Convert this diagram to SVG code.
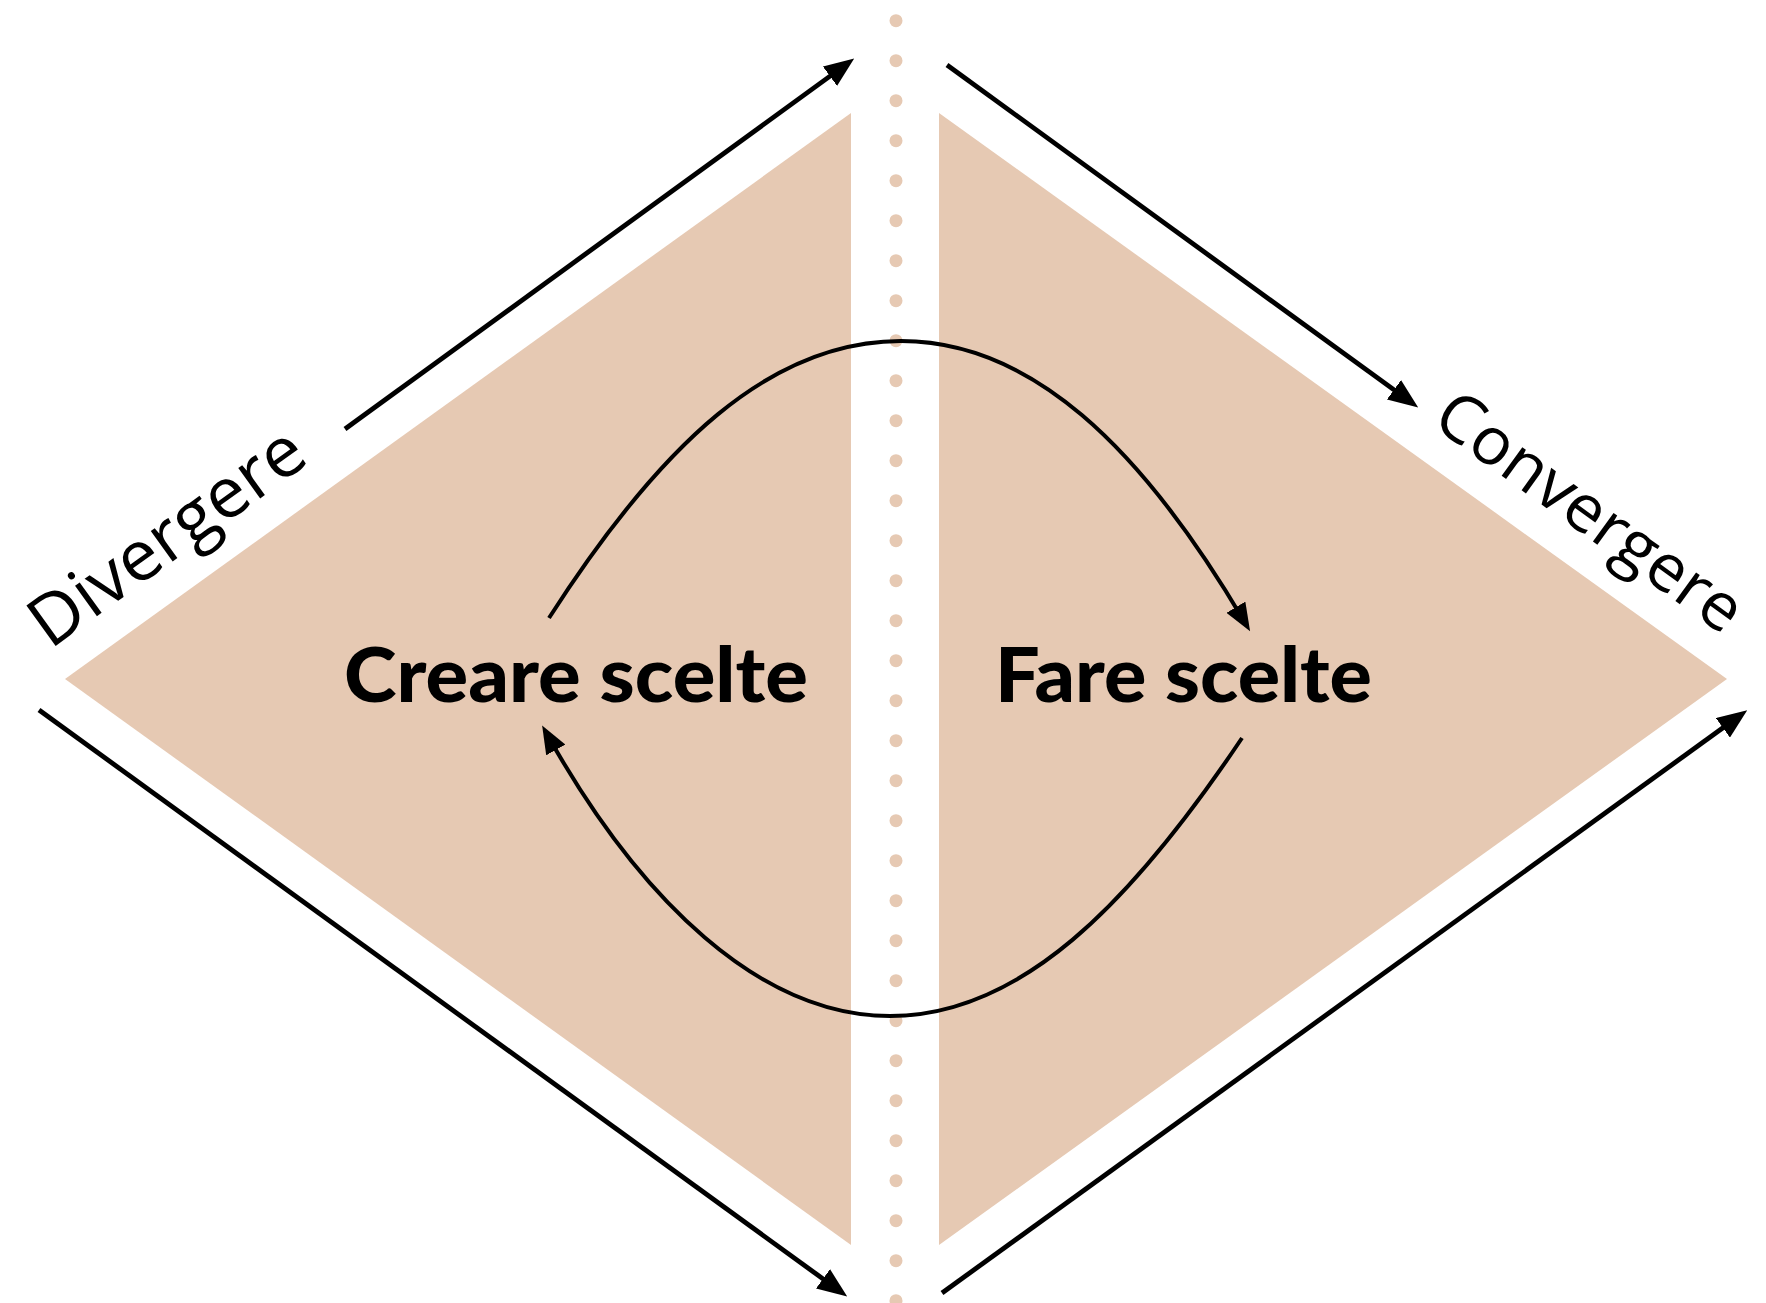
<svg xmlns="http://www.w3.org/2000/svg" width="1766" height="1303" viewBox="0 0 1766 1303">
<style>
.shape{fill:#E6C9B3;stroke:none}
.dot{fill:#E6C9B3}
.conn{stroke:#000;stroke-width:4.8;fill:none}
.arc{stroke:#000;stroke-width:4;fill:none}
.label{font-family:"Open Sans","Lato","Liberation Sans",sans-serif;font-weight:400;font-size:70px;fill:#000}
.title{font-family:"Lato","Liberation Sans",sans-serif;font-weight:900;font-size:77px;fill:#000}
</style>
<defs>
<marker id="ah" markerUnits="userSpaceOnUse" markerWidth="30" markerHeight="24" refX="18" refY="12" orient="auto">
<path d="M0,0 L30,12 L0,24 z" fill="#000"/>
</marker>
<marker id="ah2" markerUnits="userSpaceOnUse" markerWidth="28" markerHeight="22" refX="16" refY="11" orient="auto">
<path d="M0,0 L28,11 L0,22 z" fill="#000"/>
</marker>
</defs>
<rect width="1766" height="1303" fill="#fff"/>
<g id="left-area">
<polygon class="shape" points="65,679 851,113 851,1245"/>
</g>
<g id="right-area">
<polygon class="shape" points="939,113 1727,679 939,1245"/>
</g>
<g id="divider">
<g class="dot">
<circle cx="896" cy="20.7" r="6.5"/><circle cx="896" cy="60.7" r="6.5"/><circle cx="896" cy="100.7" r="6.5"/><circle cx="896" cy="140.7" r="6.5"/>
<circle cx="896" cy="180.7" r="6.5"/><circle cx="896" cy="220.7" r="6.5"/><circle cx="896" cy="260.7" r="6.5"/><circle cx="896" cy="300.7" r="6.5"/>
<circle cx="896" cy="340.7" r="6.5"/><circle cx="896" cy="380.7" r="6.5"/><circle cx="896" cy="420.7" r="6.5"/><circle cx="896" cy="460.7" r="6.5"/>
<circle cx="896" cy="500.7" r="6.5"/><circle cx="896" cy="540.7" r="6.5"/><circle cx="896" cy="580.7" r="6.5"/><circle cx="896" cy="620.7" r="6.5"/>
<circle cx="896" cy="660.7" r="6.5"/><circle cx="896" cy="700.7" r="6.5"/><circle cx="896" cy="740.7" r="6.5"/><circle cx="896" cy="780.7" r="6.5"/>
<circle cx="896" cy="820.7" r="6.5"/><circle cx="896" cy="860.7" r="6.5"/><circle cx="896" cy="900.7" r="6.5"/><circle cx="896" cy="940.7" r="6.5"/>
<circle cx="896" cy="980.7" r="6.5"/><circle cx="896" cy="1020.7" r="6.5"/><circle cx="896" cy="1060.7" r="6.5"/><circle cx="896" cy="1100.7" r="6.5"/>
<circle cx="896" cy="1140.7" r="6.5"/><circle cx="896" cy="1180.7" r="6.5"/><circle cx="896" cy="1220.7" r="6.5"/><circle cx="896" cy="1260.7" r="6.5"/>
<circle cx="896" cy="1300.7" r="6.5"/>
</g>
</g>
<g id="connectors">
<line class="conn" x1="345" y1="429" x2="844.5" y2="65.6" marker-end="url(#ah)"/>
<line class="conn" x1="947" y1="65" x2="1408.5" y2="400.4" marker-end="url(#ah)"/>
<line class="conn" x1="39" y1="710" x2="837.5" y2="1289.4" marker-end="url(#ah)"/>
<line class="conn" x1="942" y1="1293" x2="1737.5" y2="717.3" marker-end="url(#ah)"/>
<path class="arc" d="M549,618 C660,445 770,341 901,341 C1030,341 1140,445 1244,621" marker-end="url(#ah2)"/>
<path class="arc" d="M1242,738 C1130,905 1020,1016 890,1016 C760,1016 640,900 548,736" marker-end="url(#ah2)"/>
</g>
<g id="divergere">
<text class="label" transform="translate(50,650) rotate(-35.8)" textLength="322" lengthAdjust="spacingAndGlyphs">Divergere</text>
</g>
<g id="convergere">
<text class="label" transform="translate(1430,424) rotate(35.8)" style="font-size:66px" textLength="362" lengthAdjust="spacingAndGlyphs">Convergere</text>
</g>
<g id="creare">
<text class="title" x="344" y="702" textLength="464" lengthAdjust="spacingAndGlyphs">Creare scelte</text>
</g>
<g id="fare">
<text class="title" x="995" y="702" textLength="377" lengthAdjust="spacingAndGlyphs">Fare scelte</text>
</g>
</svg>
